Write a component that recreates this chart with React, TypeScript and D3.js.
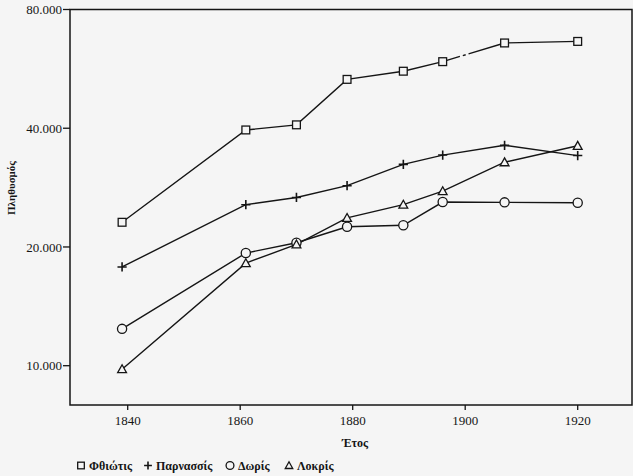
import * as d3 from 'd3';

const years = [1839, 1861, 1870, 1879, 1889, 1896, 1907, 1920];
const fthiotis = [23100, 39600, 40800, 53200, 55800, 59000, 65800, 66400];
const parnassis = [17800, 25600, 26700, 28600, 32400, 34200, 36200, 34100];
const doris = [12400, 19300, 20500, 22500, 22700, 26000, 25950, 25900];
const lokris = [9800, 18200, 20300, 23700, 25600, 27700, 32800, 36100];

const xTicks = [1840, 1860, 1880, 1900, 1920];
const yTicks = [10000, 20000, 40000, 80000];
const yTickLabels = ['10.000', '20.000', '40.000', '80.000'];

type Shape = 'square' | 'plus' | 'circle' | 'triangle';

const series: { name: string; values: number[]; shape: Shape }[] = [
  { name: 'Φθιώτις', values: fthiotis, shape: 'square' },
  { name: 'Παρνασσίς', values: parnassis, shape: 'plus' },
  { name: 'Δωρίς', values: doris, shape: 'circle' },
  { name: 'Λοκρίς', values: lokris, shape: 'triangle' },
];

const W = 633;
const H = 476;
const left = 70;
const right = 632;
const top = 9.5;
const bottom = 405;
const ink = '#151515';
const paper = '#f5f5f5';
const serif = '"Liberation Serif", "DejaVu Serif", serif';

const x = d3.scaleLinear().domain([1840, 1920]).range([127.7, 577.7]);
const y = d3.scaleLog().domain([10000, 80000]).range([365.7, 9.5]);

function Marker({ shape, cx, cy, s = 1 }: { shape: Shape; cx: number; cy: number; s?: number }) {
  const common = { fill: paper, stroke: ink, strokeWidth: 1.3 };
  if (shape === 'square') {
    const h = 3.9 * s;
    return <rect x={cx - h} y={cy - h} width={h * 2} height={h * 2} {...common} />;
  }
  if (shape === 'circle') {
    return <circle cx={cx} cy={cy} r={4.6 * s} {...common} />;
  }
  if (shape === 'triangle') {
    const h = 4.4 * s;
    return (
      <path
        d={`M${cx},${cy - h}L${cx + h},${cy + h * 0.8}L${cx - h},${cy + h * 0.8}Z`}
        {...common}
      />
    );
  }
  const h = 4.6 * s;
  return (
    <path
      d={`M${cx - h},${cy}H${cx + h}M${cx},${cy - h}V${cy + h}`}
      stroke={ink}
      strokeWidth={1.6}
      fill="none"
    />
  );
}

export default function App() {
  const line = d3
    .line<number>()
    .x((_, i) => x(years[i]))
    .y(d => y(d));

  // the printed Φθιώτις line is broken between 1896 and 1907
  const brokenFrom = 5;

  const legend = [
    { lx: 81, tx: 89 },
    { lx: 148, tx: 156 },
    { lx: 230, tx: 238 },
    { lx: 289, tx: 297 },
  ];

  return (
    <svg
      width={W}
      height={H}
      style={{ position: 'absolute', left: 0, top: 0, background: paper }}
      fontFamily={serif}
    >
      {/* frame */}
      <rect
        x={left}
        y={top}
        width={right - left}
        height={bottom - top}
        fill="none"
        stroke={ink}
        strokeWidth={1.5}
      />

      {/* y axis ticks */}
      {yTicks.map((t, i) => (
        <g key={t}>
          <line x1={left - 7} x2={left} y1={y(t)} y2={y(t)} stroke={ink} strokeWidth={1.3} />
          <text x={left - 8} y={y(t)} dy="0.35em" textAnchor="end" fontSize={13} fill={ink}>
            {yTickLabels[i]}
          </text>
        </g>
      ))}

      {/* x axis ticks */}
      {xTicks.map(t => (
        <g key={t}>
          <line x1={x(t)} x2={x(t)} y1={bottom} y2={bottom + 5} stroke={ink} strokeWidth={1.3} />
          <text x={x(t)} y={bottom + 20} textAnchor="middle" fontSize={13} fill={ink}>
            {t}
          </text>
        </g>
      ))}

      <text x={355} y={447} textAnchor="middle" fontSize={12} fontWeight="bold" fill={ink}>
        Έτος
      </text>
      <text
        transform="translate(15,188) rotate(-90)"
        textAnchor="middle"
        fontSize={11}
        fontWeight="bold"
        fill={ink}
      >
        Πληθυσμός
      </text>

      {/* lines */}
      {series.map((s, si) =>
        si === 0 ? (
          <g key={s.name}>
            <path
              d={line(s.values.slice(0, brokenFrom + 1)) ?? ''}
              fill="none"
              stroke={ink}
              strokeWidth={1.4}
            />
            <path
              d={
                d3
                  .line<number>()
                  .x((_, i) => x(years[i + brokenFrom]))
                  .y(d => y(d))(s.values.slice(brokenFrom, brokenFrom + 2)) ?? ''
              }
              fill="none"
              stroke={ink}
              strokeWidth={1.4}
              strokeDasharray="18,3,3,3,200"
            />
            <path
              d={
                d3
                  .line<number>()
                  .x((_, i) => x(years[i + brokenFrom + 1]))
                  .y(d => y(d))(s.values.slice(brokenFrom + 1)) ?? ''
              }
              fill="none"
              stroke={ink}
              strokeWidth={1.4}
            />
          </g>
        ) : (
          <path key={s.name} d={line(s.values) ?? ''} fill="none" stroke={ink} strokeWidth={1.4} />
        )
      )}

      {/* markers */}
      {series.map(s =>
        s.values.map((v, i) => (
          <Marker key={s.name + i} shape={s.shape} cx={x(years[i])} cy={y(v)} />
        ))
      )}

      {/* legend */}
      {series.map((s, i) => (
        <g key={s.name}>
          <Marker shape={s.shape} cx={legend[i].lx} cy={465.5} s={0.85} />
          <text x={legend[i].tx} y={469.5} fontSize={12} fontWeight="bold" fill={ink}>
            {s.name}
          </text>
        </g>
      ))}
    </svg>
  );
}
